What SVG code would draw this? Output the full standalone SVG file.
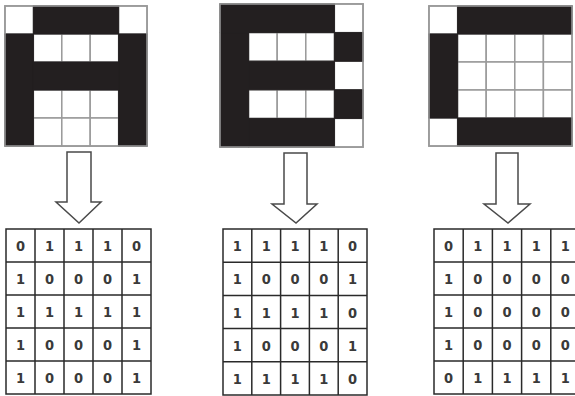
<svg xmlns="http://www.w3.org/2000/svg" width="575" height="396" viewBox="0 0 575 396">
<style>
.w{fill:#fff;stroke:#9a9a9a;stroke-width:1.5}
.k{fill:#231f20;stroke:#231f20;stroke-width:1}
.ob{fill:none;stroke:#9a9a9a;stroke-width:1.5}
.g{fill:#fff;stroke:#2a2a2a;stroke-width:1.5}
.n{font-family:"DejaVu Sans Condensed","Liberation Sans Narrow","Liberation Sans",sans-serif;font-size:14.5px;font-weight:bold;fill:#3a3a3a;text-anchor:middle}
.ar{fill:#fff;stroke:#4a4a4a;stroke-width:1.5;stroke-linejoin:miter}
</style>
<rect width="575" height="396" fill="#fff"/>

<g id="letterA">
<rect class="w" x="5" y="6" width="142" height="140"/>
<rect class="w" x="5" y="6" width="28.4" height="28"/>
<rect class="w" x="118.6" y="6" width="28.4" height="28"/>
<rect class="w" x="33.4" y="34" width="28.4" height="28"/>
<rect class="w" x="61.8" y="34" width="28.4" height="28"/>
<rect class="w" x="90.2" y="34" width="28.4" height="28"/>
<rect class="w" x="33.4" y="90" width="28.4" height="28"/>
<rect class="w" x="61.8" y="90" width="28.4" height="28"/>
<rect class="w" x="90.2" y="90" width="28.4" height="28"/>
<rect class="w" x="33.4" y="118" width="28.4" height="28"/>
<rect class="w" x="61.8" y="118" width="28.4" height="28"/>
<rect class="w" x="90.2" y="118" width="28.4" height="28"/>
<rect class="k" x="33.4" y="6" width="85.2" height="28"/>
<rect class="k" x="5" y="34" width="28.4" height="112"/>
<rect class="k" x="118.6" y="34" width="28.4" height="112"/>
<rect class="k" x="33.4" y="62" width="85.2" height="28"/>
<rect class="ob" x="5" y="6" width="142" height="140"/>
</g>

<g id="letterB">
<rect class="w" x="220" y="4" width="143" height="143"/>
<rect class="w" x="334.4" y="4" width="28.6" height="28.6"/>
<rect class="w" x="334.4" y="61.2" width="28.6" height="28.6"/>
<rect class="w" x="334.4" y="118.4" width="28.6" height="28.6"/>
<rect class="w" x="248.6" y="32.6" width="28.6" height="28.6"/>
<rect class="w" x="277.2" y="32.6" width="28.6" height="28.6"/>
<rect class="w" x="305.8" y="32.6" width="28.6" height="28.6"/>
<rect class="w" x="248.6" y="89.8" width="28.6" height="28.6"/>
<rect class="w" x="277.2" y="89.8" width="28.6" height="28.6"/>
<rect class="w" x="305.8" y="89.8" width="28.6" height="28.6"/>
<rect class="k" x="220" y="4" width="114.4" height="28.6"/>
<rect class="k" x="220" y="32.6" width="28.6" height="114.4"/>
<rect class="k" x="248.6" y="61.2" width="85.8" height="28.6"/>
<rect class="k" x="248.6" y="118.4" width="85.8" height="28.6"/>
<rect class="k" x="334.4" y="32.6" width="28.6" height="28.6"/>
<rect class="k" x="334.4" y="89.8" width="28.6" height="28.6"/>
<rect class="ob" x="220" y="4" width="143" height="143"/>
</g>

<g id="letterC">
<rect class="w" x="429" y="6" width="143" height="140"/>
<rect class="w" x="429" y="6" width="28.6" height="28"/>
<rect class="w" x="429" y="118" width="28.6" height="28"/>
<rect class="w" x="457.6" y="34" width="28.6" height="28"/>
<rect class="w" x="486.2" y="34" width="28.6" height="28"/>
<rect class="w" x="514.8" y="34" width="28.6" height="28"/>
<rect class="w" x="543.4" y="34" width="28.6" height="28"/>
<rect class="w" x="457.6" y="62" width="28.6" height="28"/>
<rect class="w" x="486.2" y="62" width="28.6" height="28"/>
<rect class="w" x="514.8" y="62" width="28.6" height="28"/>
<rect class="w" x="543.4" y="62" width="28.6" height="28"/>
<rect class="w" x="457.6" y="90" width="28.6" height="28"/>
<rect class="w" x="486.2" y="90" width="28.6" height="28"/>
<rect class="w" x="514.8" y="90" width="28.6" height="28"/>
<rect class="w" x="543.4" y="90" width="28.6" height="28"/>
<rect class="k" x="457.6" y="6" width="114.4" height="28"/>
<rect class="k" x="429" y="34" width="28.6" height="84"/>
<rect class="k" x="457.6" y="118" width="114.4" height="28"/>
<rect class="ob" x="429" y="6" width="143" height="140"/>
</g>

<g id="connectors">
<polygon class="ar" points="67,152 91,152 91,202 101,202 79,223 56,202 67,202"/>
<polygon class="ar" points="284,153 307,153 307,204 317,204 296,223 272,204 284,204"/>
<polygon class="ar" points="496,153 518,153 518,204 530,204 508,223 484,204 496,204"/>
</g>

<g id="matrixA">
<rect class="g" x="6" y="229" width="145" height="165"/>
<path d="M35,229V394M64,229V394M93,229V394M122,229V394M6,262H151M6,295H151M6,328H151M6,361H151" stroke="#2a2a2a" stroke-width="1.5" fill="none"/>
<g class="n">
<text x="20.5" y="251">0</text><text x="49.5" y="251">1</text><text x="78.5" y="251">1</text><text x="107.5" y="251">1</text><text x="136.5" y="251">0</text>
<text x="20.5" y="284">1</text><text x="49.5" y="284">0</text><text x="78.5" y="284">0</text><text x="107.5" y="284">0</text><text x="136.5" y="284">1</text>
<text x="20.5" y="317">1</text><text x="49.5" y="317">1</text><text x="78.5" y="317">1</text><text x="107.5" y="317">1</text><text x="136.5" y="317">1</text>
<text x="20.5" y="350">1</text><text x="49.5" y="350">0</text><text x="78.5" y="350">0</text><text x="107.5" y="350">0</text><text x="136.5" y="350">1</text>
<text x="20.5" y="383">1</text><text x="49.5" y="383">0</text><text x="78.5" y="383">0</text><text x="107.5" y="383">0</text><text x="136.5" y="383">1</text>
</g>
</g>

<g id="matrixB">
<rect class="g" x="223" y="229" width="144" height="166"/>
<path d="M251.8,229V395M280.6,229V395M309.4,229V395M338.2,229V395M223,262.2H367M223,295.4H367M223,328.6H367M223,361.8H367" stroke="#2a2a2a" stroke-width="1.5" fill="none"/>
<g class="n">
<text x="237.4" y="251">1</text><text x="266.2" y="251">1</text><text x="295" y="251">1</text><text x="323.8" y="251">1</text><text x="352.6" y="251">0</text>
<text x="237.4" y="284">1</text><text x="266.2" y="284">0</text><text x="295" y="284">0</text><text x="323.8" y="284">0</text><text x="352.6" y="284">1</text>
<text x="237.4" y="317.5">1</text><text x="266.2" y="317.5">1</text><text x="295" y="317.5">1</text><text x="323.8" y="317.5">1</text><text x="352.6" y="317.5">0</text>
<text x="237.4" y="350.5">1</text><text x="266.2" y="350.5">0</text><text x="295" y="350.5">0</text><text x="323.8" y="350.5">0</text><text x="352.6" y="350.5">1</text>
<text x="237.4" y="384">1</text><text x="266.2" y="384">1</text><text x="295" y="384">1</text><text x="323.8" y="384">1</text><text x="352.6" y="384">0</text>
</g>
</g>

<g id="matrixC">
<rect class="g" x="434" y="229" width="146" height="165"/>
<path d="M463.2,229V394M492.4,229V394M521.6,229V394M550.8,229V394M434,262H580M434,295H580M434,328H580M434,361H580" stroke="#2a2a2a" stroke-width="1.5" fill="none"/>
<g class="n">
<text x="448.6" y="251">0</text><text x="477.8" y="251">1</text><text x="507" y="251">1</text><text x="536.2" y="251">1</text><text x="565.4" y="251">1</text>
<text x="448.6" y="284">1</text><text x="477.8" y="284">0</text><text x="507" y="284">0</text><text x="536.2" y="284">0</text><text x="565.4" y="284">0</text>
<text x="448.6" y="317">1</text><text x="477.8" y="317">0</text><text x="507" y="317">0</text><text x="536.2" y="317">0</text><text x="565.4" y="317">0</text>
<text x="448.6" y="350">1</text><text x="477.8" y="350">0</text><text x="507" y="350">0</text><text x="536.2" y="350">0</text><text x="565.4" y="350">0</text>
<text x="448.6" y="383">0</text><text x="477.8" y="383">1</text><text x="507" y="383">1</text><text x="536.2" y="383">1</text><text x="565.4" y="383">1</text>
</g>
</g>
</svg>
